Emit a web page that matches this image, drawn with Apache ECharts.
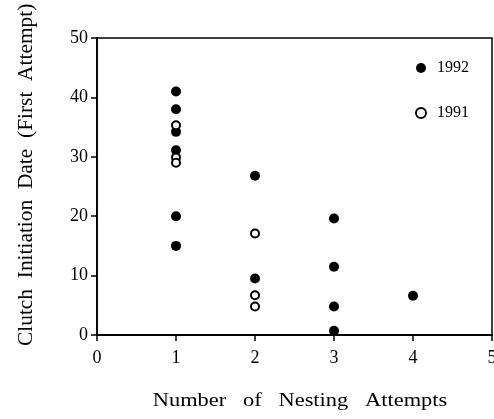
<!DOCTYPE html>
<html>
<head>
<meta charset="utf-8">
<script src="https://cdn.jsdelivr.net/npm/echarts@6/dist/echarts.min.js"></script>
<style>
html,body{margin:0;padding:0;background:#fff;}
#c{width:494px;height:419px;}
</style>
</head>
<body>
<div id="c"></div>
<script>
// Data
var series1992 = [[1,41],[1,38],[1,34.2],[1,31.1],[1,20],[1,15],[2,26.8],[2,9.5],[3,19.6],[3,11.5],[3,4.8],[3,0.7],[4,6.6]];
var series1991 = [[1,35.3],[1,29.9],[1,29],[2,17.1],[2,6.7],[2,4.8]];
var xTicks = [0,1,2,3,4,5];
var yTicks = [0,10,20,30,40,50];
var xTitle = 'Number   of   Nesting   Attempts';
var yTitle = 'Clutch  Initiation  Date  (First  Attempt)';

var chart = echarts.init(document.getElementById('c'), null, {renderer:'canvas'});
var font = '"Liberation Serif","Times New Roman",serif';
chart.setOption({
  animation:false,
  backgroundColor:'#fff',
  grid:{left:97,right:2,top:38,bottom:84,show:true,borderColor:'#000',borderWidth:1.5,
        containLabel:false,outerBoundsMode:'none'},
  legend:{
    orient:'vertical', left:410, top:55, itemGap:29, itemWidth:10, itemHeight:10,
    icon:'circle',
    textStyle:{fontFamily:font,fontSize:16,color:'#000',padding:[0,0,0,6]},
    data:['1992','1991']
  },
  xAxis:{
    type:'value', min:xTicks[0], max:xTicks[xTicks.length-1], interval:1,
    splitLine:{show:false},
    axisLine:{lineStyle:{color:'#000',width:1.8}},
    axisTick:{show:true,length:6,lineStyle:{color:'#000',width:1.5}},
    axisLabel:{fontFamily:font,fontSize:18,color:'#000',margin:14}
  },
  yAxis:{
    type:'value', min:yTicks[0], max:yTicks[yTicks.length-1], interval:10,
    splitLine:{show:false},
    axisLine:{lineStyle:{color:'#000',width:1.8}},
    axisTick:{show:true,length:6,lineStyle:{color:'#000',width:1.5}},
    axisLabel:{fontFamily:font,fontSize:18,color:'#000',margin:9}
  },
  graphic:[{
    type:'text', x:27, y:346, rotation:Math.PI/2, scaleX:1.07,
    style:{text:yTitle, font:'20px '+font, fill:'#000', textAlign:'left', textVerticalAlign:'middle'}
  },{
    type:'text', x:300, y:401, scaleX:1.18,
    style:{text:xTitle, font:'19px '+font, fill:'#000', textAlign:'center', textVerticalAlign:'middle'}
  }],
  series:[
    {name:'1992',type:'scatter',data:series1992,symbol:'circle',symbolSize:10,clip:false,z:5,
     itemStyle:{color:'#000',opacity:1}},
    {name:'1991',type:'scatter',data:series1991,symbol:'circle',symbolSize:8,clip:false,z:5,
     itemStyle:{color:'#fff',borderColor:'#000',borderWidth:2,opacity:1}}
  ]
});
</script>
</body>
</html>
